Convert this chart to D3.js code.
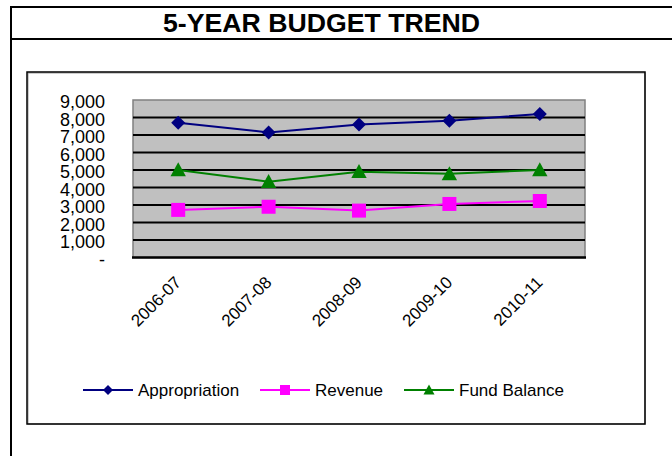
<!DOCTYPE html>
<html>
<head>
<meta charset="utf-8">
<script src="https://cdn.jsdelivr.net/npm/d3@7"></script>
<style>
  body { margin: 0; background: #fff; }
  svg { display: block; font-family: "Liberation Sans", Arial, sans-serif; }
</style>
</head>
<body>
<svg width="672" height="456"></svg>
<script>
var svg = d3.select('svg');

// data
var years = ['2006-07', '2007-08', '2008-09', '2009-10', '2010-11'];
var appropriation = [7700, 7150, 7600, 7820, 8200];
var revenue = [2720, 2900, 2680, 3060, 3230];
var fundBalance = [5000, 4330, 4900, 4780, 5000];
var yTicks = [0, 1000, 2000, 3000, 4000, 5000, 6000, 7000, 8000, 9000];

var series = [
    {name: 'Appropriation', values: appropriation, color: '#000080', marker: 'diamond'},
    {name: 'Revenue', values: revenue, color: '#FF00FF', marker: 'square'},
    {name: 'Fund Balance', values: fundBalance, color: '#008000', marker: 'triangle'}
];

// outer frame + title
svg.append('line').attr('x1', 11).attr('x2', 11).attr('y1', 6).attr('y2', 456)
    .attr('stroke', '#000').attr('stroke-width', 2);
svg.append('line').attr('x1', 10).attr('x2', 672).attr('y1', 7).attr('y2', 7)
    .attr('stroke', '#000').attr('stroke-width', 2);
svg.append('line').attr('x1', 10).attr('x2', 672).attr('y1', 39).attr('y2', 39)
    .attr('stroke', '#000').attr('stroke-width', 2);
svg.append('text')
    .attr('x', 163).attr('y', 32)
    .attr('font-size', 25).attr('font-weight', 'bold')
    .attr('textLength', 317).attr('lengthAdjust', 'spacingAndGlyphs')
    .text('5-YEAR BUDGET TREND');

// chart box
svg.append('rect').attr('x', 28).attr('y', 73).attr('width', 617).attr('height', 351)
    .attr('fill', 'none').attr('stroke', '#999').attr('stroke-width', 1);
svg.append('rect').attr('x', 27).attr('y', 72).attr('width', 618).attr('height', 352)
    .attr('fill', 'none').attr('stroke', '#000').attr('stroke-width', 1.5);

// plot area
var plotL = 133, plotR = 585, plotT = 100, plotB = 257.5;

var x = d3.scaleBand().domain(years).range([plotL, plotR]);
var y = d3.scaleLinear().domain([0, 9000]).range([plotB, plotT]);

svg.append('rect')
    .attr('x', plotL).attr('y', plotT)
    .attr('width', plotR - plotL).attr('height', plotB - plotT)
    .attr('fill', '#C0C0C0')
    .attr('stroke', '#808080').attr('stroke-width', 1.5);

svg.selectAll('.grid')
    .data(yTicks.slice(1, 9))
    .enter()
    .append('line')
    .attr('class', 'grid')
    .attr('x1', plotL).attr('x2', plotR)
    .attr('y1', function(d){ return y(d); })
    .attr('y2', function(d){ return y(d); })
    .attr('stroke', '#000').attr('stroke-width', 2);

svg.append('line')
    .attr('x1', plotL - 1).attr('x2', plotR + 1)
    .attr('y1', y(0)).attr('y2', y(0))
    .attr('stroke', '#000').attr('stroke-width', 2.5);

// y axis labels
var yAxis = d3.axisLeft(y)
    .tickValues(yTicks)
    .tickSize(0)
    .tickPadding(0)
    .tickFormat(function(d){ return d === 0 ? '-' : d3.format(',')(d); });

var yg = svg.append('g')
    .attr('transform', 'translate(105,0)')
    .call(yAxis);
yg.select('.domain').remove();
yg.selectAll('text')
    .attr('font-family', '"Liberation Sans", Arial, sans-serif')
    .attr('font-size', 18)
    .attr('fill', '#000')
    .attr('dy', '0.42em');

// x axis labels
var xAxis = d3.axisBottom(x).tickSize(0).tickPadding(0);
var xg = svg.append('g')
    .attr('transform', 'translate(0,' + plotB + ')')
    .call(xAxis);
xg.select('.domain').remove();
xg.selectAll('text')
    .attr('font-family', '"Liberation Sans", Arial, sans-serif')
    .attr('font-size', 17)
    .attr('fill', '#000')
    .attr('text-anchor', 'end')
    .attr('dy', null)
    .attr('y', 0)
    .attr('transform', 'translate(4,26) rotate(-45)');

// lines + markers
function markerPath(type, s) {
    if (type === 'diamond') {
        return 'M0,' + (-s) + 'L' + s + ',0L0,' + s + 'L' + (-s) + ',0Z';
    }
    if (type === 'square') {
        return 'M' + (-s) + ',' + (-s) + 'H' + s + 'V' + s + 'H' + (-s) + 'Z';
    }
    return 'M0,' + (-s * 1.1) + 'L' + (s * 1.1) + ',' + (s * 0.9) + 'L' + (-s * 1.1) + ',' + (s * 0.9) + 'Z';
}

var line = d3.line()
    .x(function(d, i){ return x(years[i]) + x.bandwidth() / 2; })
    .y(function(d){ return y(d); });

series.forEach(function(s){
    svg.append('path')
        .attr('d', line(s.values))
        .attr('fill', 'none')
        .attr('stroke', s.color)
        .attr('stroke-width', 2);

    svg.selectAll('.m-' + s.marker)
        .data(s.values)
        .enter()
        .append('path')
        .attr('class', 'm-' + s.marker)
        .attr('transform', function(d, i){
            return 'translate(' + (x(years[i]) + x.bandwidth() / 2) + ',' + y(d) + ')';
        })
        .attr('d', markerPath(s.marker, 7))
        .attr('fill', s.color);
});

// legend
var legendX = [83, 260, 404];
var legendY = 390;
series.forEach(function(s, i){
    var g = svg.append('g').attr('transform', 'translate(' + legendX[i] + ',' + legendY + ')');
    g.append('line').attr('x1', 0).attr('x2', 50).attr('y1', 0).attr('y2', 0)
        .attr('stroke', s.color).attr('stroke-width', 2);
    g.append('path')
        .attr('transform', 'translate(25,0)')
        .attr('d', markerPath(s.marker, 5))
        .attr('fill', s.color);
    g.append('text')
        .attr('x', 55).attr('y', 6)
        .attr('font-size', 17)
        .text(s.name);
});
</script>
</body>
</html>
